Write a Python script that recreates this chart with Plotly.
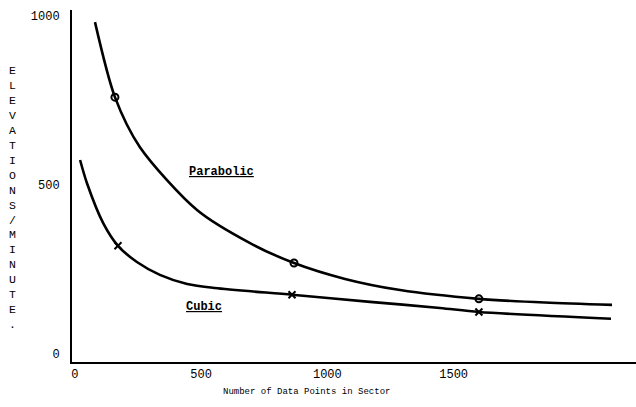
import plotly.graph_objects as go

# ---- data ----
parabolic_x = [80, 159, 258, 484, 694, 868, 1070, 1288, 1600, 1862, 2127]
parabolic_y = [982, 760, 612, 426, 328, 269, 222, 189, 163, 152, 145]
parabolic_mark_x = [159, 868, 1600]
parabolic_mark_y = [760, 269, 163]

cubic_x = [21, 48, 112, 171, 246, 337, 445, 555, 860, 1169, 1446, 1600, 2123]
cubic_y = [574, 506, 388, 320, 272, 234, 207, 195, 175, 154, 136, 124, 104]
cubic_mark_x = [171, 860, 1600]
cubic_mark_y = [320, 175, 124]

x_ticks = [0, 500, 1000, 1500]
y_ticks = [0, 500, 1000]
x_title = "Number of Data Points in Sector"
y_title_letters = list("ELEVATIONS/MINUTE.")
label_parabolic = ("Parabolic", 580, 538)
label_cubic = ("Cubic", 512, 139)

FONT = "Liberation Mono, Courier New, monospace"

fig = go.Figure()
fig.add_trace(go.Scatter(x=parabolic_x, y=parabolic_y, mode="lines",
                         line=dict(color="black", width=2.6, shape="spline", smoothing=0.8),
                         showlegend=False, hoverinfo="skip"))
fig.add_trace(go.Scatter(x=cubic_x, y=cubic_y, mode="lines",
                         line=dict(color="black", width=2.6, shape="spline", smoothing=0.8),
                         showlegend=False, hoverinfo="skip"))
fig.add_trace(go.Scatter(x=parabolic_mark_x, y=parabolic_mark_y, mode="markers",
                         marker=dict(symbol="circle-open", size=7, color="black",
                                     line=dict(width=2, color="black")),
                         showlegend=False))
fig.add_trace(go.Scatter(x=cubic_mark_x, y=cubic_mark_y, mode="markers",
                         marker=dict(symbol="x-thin-open", size=7, color="black",
                                     line=dict(width=2, color="black")),
                         showlegend=False))

for text, lx, ly in (label_parabolic, label_cubic):
    fig.add_annotation(x=lx, y=ly, xref="x", yref="y", text="<b><u>" + text + "</u></b>",
                       showarrow=False, font=dict(family=FONT, size=12, color="black"))

fig.add_annotation(x=(12 - 72) / 564, y=(362 - 197) / 352, xref="paper", yref="paper",
                   text="<br>".join(y_title_letters), showarrow=False,
                   xanchor="center", yanchor="middle",
                   font=dict(family=FONT, size=11.5, color="black"))
fig.add_annotation(x=(306 - 72) / 564, y=(362 - 392) / 352, xref="paper", yref="paper",
                   text=x_title, showarrow=False, xanchor="center", yanchor="middle",
                   font=dict(family=FONT, size=9, color="black"))

fig.update_xaxes(range=[-11, 2222], tickvals=x_ticks, ticktext=[str(v) for v in x_ticks],
                 showgrid=False, zeroline=False, showline=True, linecolor="black", linewidth=2,
                 ticks="", tickfont=dict(family=FONT, size=12, color="black"))
fig.update_yaxes(range=[-24, 1018], tickvals=y_ticks, ticktext=[str(v) for v in y_ticks],
                 showgrid=False, zeroline=False, showline=True, linecolor="black", linewidth=2,
                 ticks="", ticklabelstandoff=8, tickfont=dict(family=FONT, size=12, color="black"))

fig.update_layout(width=636, height=407, margin=dict(l=72, r=0, t=10, b=45),
                  plot_bgcolor="white", paper_bgcolor="white")

fig.write_html("out.html", config={"displayModeBar": False},
               post_script="document.body.style.margin='0';")
